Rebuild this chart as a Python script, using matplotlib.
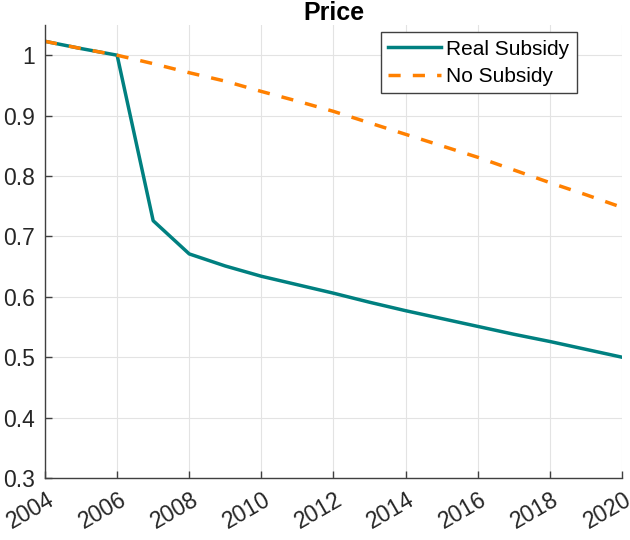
import numpy as np
import matplotlib.pyplot as plt
from matplotlib.transforms import ScaledTranslation

plt.rcParams['font.family'] = ['Liberation Sans', 'DejaVu Sans']

years = np.arange(2004, 2021)
real_subsidy = [1.023, 1.011, 1.000, 0.726, 0.671, 0.651, 0.634, 0.620, 0.606,
                0.591, 0.577, 0.564, 0.551, 0.538, 0.526, 0.513, 0.500]
no_subsidy = [1.023, 1.011, 1.000, 0.986, 0.971, 0.957, 0.940, 0.924, 0.907,
              0.888, 0.869, 0.850, 0.831, 0.810, 0.789, 0.769, 0.748]

teal = '#008080'
orange = '#FF8000'
axis_grey = '#404040'

fig = plt.figure(figsize=(6.3, 5.4), dpi=100)
ax = fig.add_axes([0.0714, 0.1148, 0.9159, 0.8389])

ax.plot(years, real_subsidy, color=teal, linewidth=2.5, label='Real Subsidy')
ax.plot(years, no_subsidy, color=orange, linewidth=2.5, linestyle=(0, (3.5, 3.5)),
        label='No Subsidy')

ax.set_xlim(2004, 2020)
ax.set_ylim(0.3, 1.05)
ax.set_xticks(np.arange(2004, 2021, 2))
ax.set_yticks(np.arange(0.3, 1.01, 0.1))
ax.set_yticklabels(['0.3', '0.4', '0.5', '0.6', '0.7', '0.8', '0.9', '1'])

ax.grid(True, color='#e3e3e3', linewidth=0.8)
ax.set_axisbelow(True)
for side in ['top', 'right']:
    ax.spines[side].set_visible(False)
for side in ['left', 'bottom']:
    ax.spines[side].set_color(axis_grey)
    ax.spines[side].set_linewidth(1.0)

ax.tick_params(direction='in', length=5, width=1.0, color=axis_grey,
               labelsize=16.5, labelcolor='#262626')
ax.tick_params(axis='y', pad=7)
ax.tick_params(axis='x', pad=7)

# rotated year labels, nudged a touch to the right of their ticks
shift = ScaledTranslation(0.015, 0, fig.dpi_scale_trans)
for lbl in ax.get_xticklabels():
    lbl.set_rotation(30)
    lbl.set_ha('right')
    lbl.set_va('top')
    lbl.set_rotation_mode('anchor')
    lbl.set_transform(lbl.get_transform() + shift)

ax.set_title('Price', fontsize=18, fontweight='bold', pad=3)

leg = ax.legend(loc='upper left', bbox_to_anchor=(380.7 / 630, 1 - 32.3 / 540),
                bbox_transform=fig.transFigure, fontsize=15, frameon=True,
                fancybox=False, framealpha=1, edgecolor=axis_grey,
                handlelength=2.55, handletextpad=0.25, borderpad=0.35,
                borderaxespad=0, labelspacing=0.4)
leg.get_frame().set_linewidth(1.0)

fig.savefig('out.png', dpi=100)
